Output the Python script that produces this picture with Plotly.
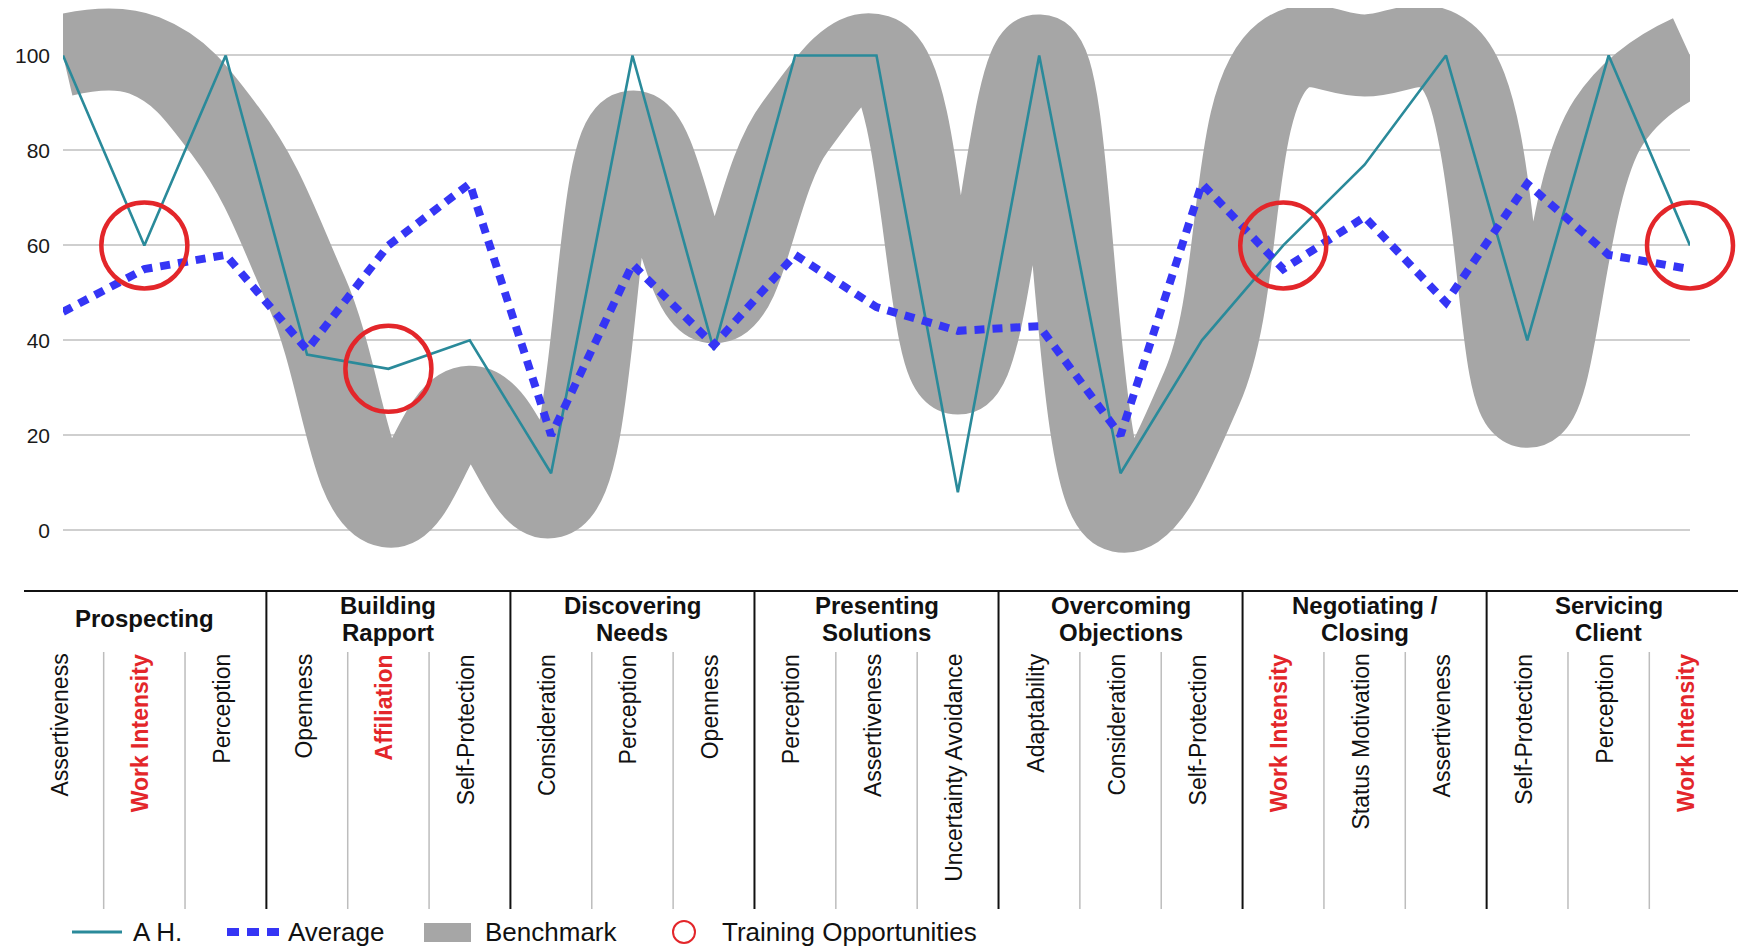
import plotly.graph_objects as go

# ---- data -------------------------------------------------------------
competencies = [
    "Assertiveness", "Work Intensity", "Perception",
    "Openness", "Affiliation", "Self-Protection",
    "Consideration", "Perception", "Openness",
    "Perception", "Assertiveness", "Uncertainty Avoidance",
    "Adaptability", "Consideration", "Self-Protection",
    "Work Intensity", "Status Motivation", "Assertiveness",
    "Self-Protection", "Perception", "Work Intensity",
]
stage_titles = [
    ["Prospecting"],
    ["Building", "Rapport"],
    ["Discovering", "Needs"],
    ["Presenting", "Solutions"],
    ["Overcoming", "Objections"],
    ["Negotiating /", "Closing"],
    ["Servicing", "Client"],
]
ah_scores = [100, 60, 100, 37, 34, 40, 12, 100, 38, 100, 100,
             8, 100, 12, 40, 60, 77, 100, 40, 100, 60]
average_scores = [46, 55, 58, 38, 60, 73, 20, 56, 39, 58, 47,
                  42, 43, 20, 73, 55, 66, 48, 73, 58, 55]
benchmark_scores = [100, 100, 84, 50, 5, 26, 7, 84, 48, 85, 100,
                    33, 100, 4, 30, 100, 100, 100, 26, 86, 100]
training_idx = [1, 4, 15, 20]
y_ticks = [0, 20, 40, 60, 80, 100]

# ---- geometry ---------------------------------------------------------
W, H = 1738, 951
PL, PR, PT, PB = 63, 1690, 8, 592


def pxx(px):
    return (px - PL) / (PR - PL)


def pxy(py):
    return (PB - py) / (PB - PT)


TEAL = "#2a8a9a"
BLUE = "#3535f5"
GREY = "#a6a6a6"
RED = "#e3262a"
LABEL_FONT = "Liberation Sans, Arial, sans-serif"

xs = list(range(len(competencies)))

fig = go.Figure()
fig.add_trace(go.Scatter(
    x=xs, y=benchmark_scores, mode="lines", name="Benchmark",
    line=dict(color=GREY, width=82, shape="spline", smoothing=1.2),
    showlegend=False, hoverinfo="skip"))
fig.add_trace(go.Scatter(
    x=xs, y=ah_scores, mode="lines", name="A H.",
    line=dict(color=TEAL, width=2.6), showlegend=False))
fig.add_trace(go.Scatter(
    x=xs, y=average_scores, mode="lines", name="Average",
    line=dict(color=BLUE, width=8, dash="10px,8px"), showlegend=False))
fig.add_trace(go.Scatter(
    x=[xs[i] for i in training_idx], y=[ah_scores[i] for i in training_idx],
    mode="markers", name="Training Opportunities", cliponaxis=False,
    marker=dict(symbol="circle-open", size=86, color=RED,
                line=dict(color=RED, width=4.5)),
    showlegend=False))

shapes = []
annotations = []

# table frame under the plot
shapes.append(dict(type="line", xref="paper", yref="paper",
                   x0=pxx(24), x1=pxx(1738), y0=pxy(591), y1=pxy(591),
                   line=dict(color="#111111", width=2)))
n_groups = len(stage_titles)
for g in range(1, n_groups):
    shapes.append(dict(type="line", xref="x", yref="paper",
                       x0=3 * g - 0.5, x1=3 * g - 0.5,
                       y0=pxy(591), y1=pxy(909),
                       line=dict(color="#111111", width=2)))
for g in range(n_groups):
    for k in (1, 2):
        shapes.append(dict(type="line", xref="x", yref="paper",
                           x0=3 * g + k - 0.5, x1=3 * g + k - 0.5,
                           y0=pxy(652), y1=pxy(909),
                           line=dict(color="#bdbdbd", width=1.5)))

# stage titles
for g, lines in enumerate(stage_titles):
    ys = [618] if len(lines) == 1 else [605, 632]
    for line_text, yp in zip(lines, ys):
        annotations.append(dict(
            x=3 * g + 1, xref="x", y=pxy(yp), yref="paper",
            text="<b>" + line_text + "</b>", showarrow=False,
            xanchor="center", yanchor="middle",
            font=dict(family=LABEL_FONT, size=24, color="#111111")))

# competency labels
for i, name in enumerate(competencies):
    flagged = i in training_idx
    annotations.append(dict(
        x=i, xref="x", y=pxy(652), yref="paper", xshift=-4,
        text=("<b>" + name + "</b>") if flagged else name,
        textangle=-90, showarrow=False, xanchor="center", yanchor="top",
        font=dict(family=LABEL_FONT, size=23,
                  color=RED if flagged else "#111111")))

# legend row
LY = 932
shapes.append(dict(type="line", xref="paper", yref="paper",
                   x0=pxx(72), x1=pxx(122), y0=pxy(LY), y1=pxy(LY),
                   line=dict(color=TEAL, width=3)))
shapes.append(dict(type="line", xref="paper", yref="paper",
                   x0=pxx(227), x1=pxx(279), y0=pxy(LY), y1=pxy(LY),
                   line=dict(color=BLUE, width=8, dash="12px,8px")))
shapes.append(dict(type="rect", xref="paper", yref="paper",
                   x0=pxx(424), x1=pxx(471), y0=pxy(942), y1=pxy(923),
                   fillcolor=GREY, line=dict(width=0)))
shapes.append(dict(type="circle", xref="paper", yref="paper",
                   x0=pxx(673), x1=pxx(695), y0=pxy(943), y1=pxy(921),
                   line=dict(color=RED, width=2)))
for label, xl in [("A H.", 131), ("Average", 286),
                  ("Benchmark", 483), ("Training Opportunities", 720)]:
    annotations.append(dict(
        x=pxx(xl), xref="paper", y=pxy(LY), yref="paper", text=label,
        showarrow=False, xanchor="left", yanchor="middle",
        font=dict(family=LABEL_FONT, size=26, color="#111111")))

fig.update_layout(
    width=W, height=H,
    margin=dict(l=PL, r=W - PR, t=PT, b=H - PB, pad=0),
    paper_bgcolor="white", plot_bgcolor="white",
    showlegend=False,
    shapes=shapes, annotations=annotations,
    xaxis=dict(range=[0, len(competencies) - 1], showgrid=False,
               zeroline=False, showticklabels=False, ticks="",
               showline=False, fixedrange=True),
    yaxis=dict(range=[-13, 110], tickvals=y_ticks, showgrid=True,
               gridcolor="#cfcfcf", gridwidth=1.5, zeroline=False,
               showline=False, ticks="", ticklabelstandoff=12,
               tickfont=dict(family=LABEL_FONT, size=21, color="#1a1a1a"),
               fixedrange=True),
)

fig.write_html("out.html")
